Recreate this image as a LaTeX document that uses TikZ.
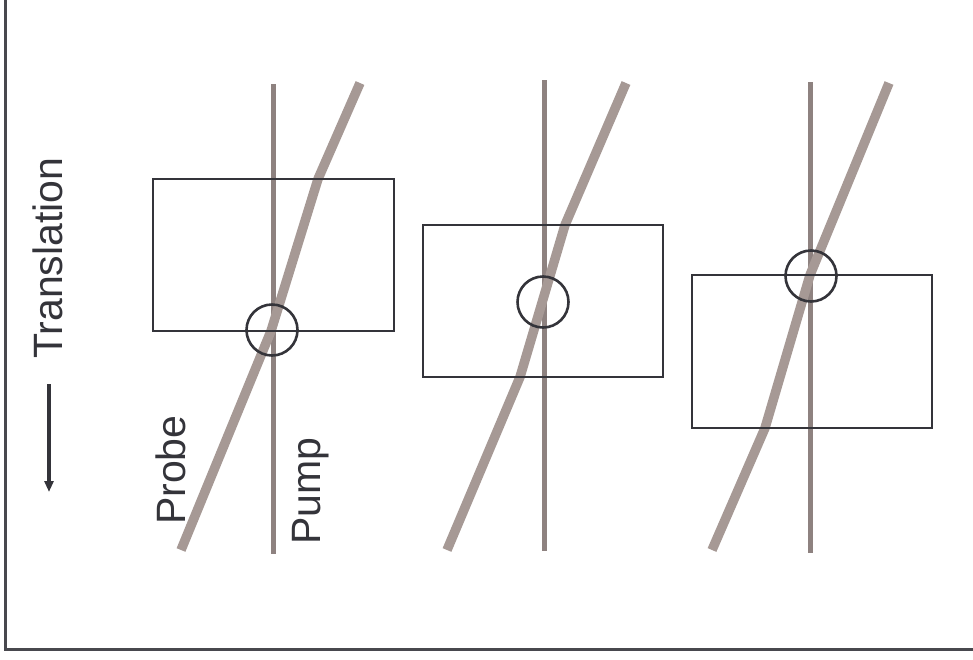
\documentclass[tikz,border=0pt]{standalone}
\usepackage{fontspec}
\setmainfont{Liberation Sans}
\usetikzlibrary{arrows.meta}
\definecolor{ink}{RGB}{52,52,58}
\definecolor{pumpc}{RGB}{142,130,128}
\definecolor{probec}{RGB}{166,153,149}
\begin{document}
\begin{tikzpicture}[x=1pt,y=-1pt,
  frame/.style={draw=ink!90, line width=3pt},
  cell/.style={draw=ink, line width=1.8pt},
  pumpbeam/.style={draw=pumpc, line width=5pt},
  probebeam/.style={draw=probec, line width=9.5pt, line join=round},
  focus/.style={draw=ink, line width=2.6pt},
  lbl/.style={text=ink, font=\fontsize{41}{41}\selectfont, inner sep=0pt,
              rotate=90, anchor=base west}]
\useasboundingbox (0,0) rectangle (973,659);

% outer frame (left and bottom edges)
\draw[frame] (5,0) -- (5,649.5) -- (973,649.5);

% beams: vertical pump, refracted probe
\foreach \px/\pt/\pb/\qa/\qb/\qc/\qd/\ya/\yb in
  {273/84/554/360/318/271/181/179/331,
   544/80/551/626/565/520/447/225/377,
   810/82/553/889/810/765/712/275/428}{
  \draw[pumpbeam] (\px,\pt) -- (\px,\pb);
  \draw[probebeam] (\qa,83) -- (\qb,\ya) -- (\qc,\yb) -- (\qd,550);
}

% sample cells
\draw[cell] (153,179) rectangle (394,331);
\draw[cell] (423,225) rectangle (663,377);
\draw[cell] (692,275) rectangle (932,428);

% overlap regions
\draw[focus] (272,330) circle (25.5);
\draw[focus] (543,302) circle (25.5);
\draw[focus] (811,276) circle (25.5);

% labels
\node[lbl] (trans) at (62,359) {Translation};
\node[lbl] (probe) at (185,525) {Probe};
\node[lbl] (pump) at (320,545) {Pump};

% direction of translation
\coordinate (arrtop) at (49,384);
\coordinate (arrtip) at (49,492);
\draw[ink, line width=3.5pt, -{Triangle[length=11pt,width=9pt]}] (arrtop) -- (arrtip);
\end{tikzpicture}
\end{document}
